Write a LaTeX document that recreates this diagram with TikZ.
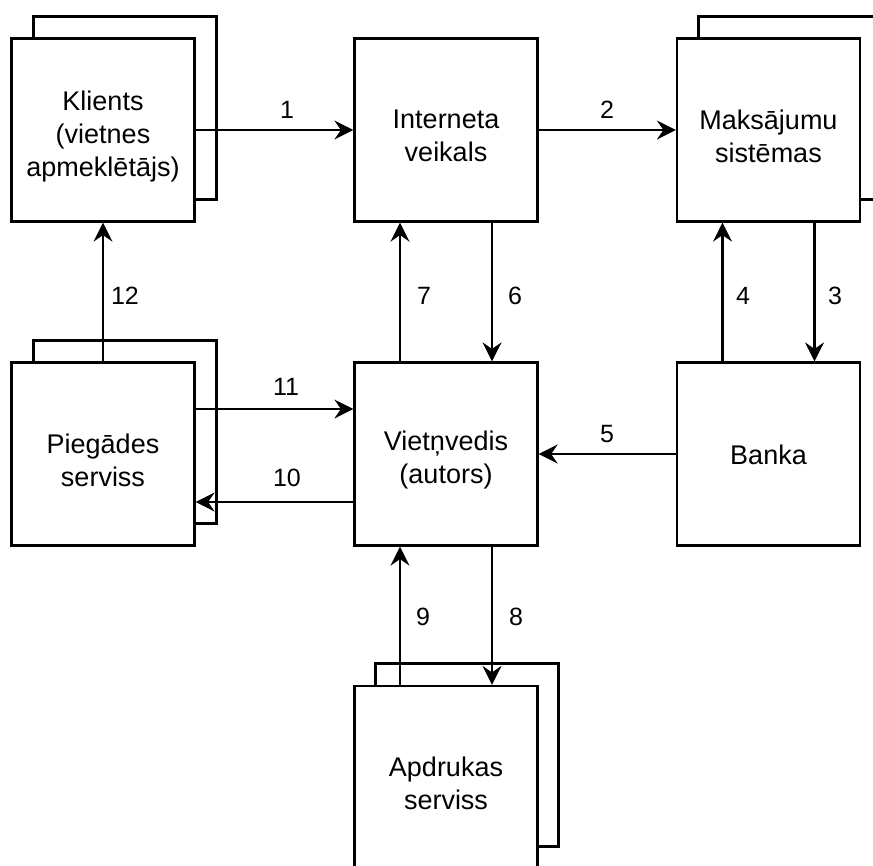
\documentclass[tikz,border=0pt]{standalone}
\usepackage{fontspec}
\setmainfont{Liberation Sans}
\usetikzlibrary{arrows.meta}
\begin{document}
\begin{tikzpicture}[x=1pt,y=-1pt,
  box/.style={draw=black,line width=2.2pt,fill=white,minimum width=183pt,minimum height=183pt,inner sep=0pt},
  boxtext/.style={align=center,font=\fontsize{27}{33}\selectfont,text=black,inner sep=0pt},
  backbox/.style={draw=black,line width=2.2pt,fill=white,minimum width=183pt,minimum height=183pt,inner sep=0pt},
  arr/.style={line width=2.2pt,-{Stealth[length=19pt,width=19pt,inset=6.5pt]}},
  lbl/.style={font=\fontsize{25}{30}\selectfont,inner sep=0pt,text=black}]
\useasboundingbox (0,0) rectangle (873,865);
\begin{scope}
\clip (0,0) rectangle (873,865);
% back boxes
\node[backbox] (klb) at (125,108) {};
\node[backbox] (msb) at (790,108) {};
\node[backbox] (pgb) at (125,432) {};
\node[backbox] (apb) at (467,755) {};
% front boxes
\node[box,label={[name=klt,boxtext,yshift=-7pt]center:Klients\\(vietnes\\apmeklētājs)}] (kl) at (103,130) {};
\node[box,label={[name=ivt,boxtext,yshift=-6pt]center:Interneta\\veikals}] (iv) at (446,130) {};
\node[box,label={[name=mst,boxtext,yshift=-6pt]center:Maksājumu\\sistēmas}] (ms) at (768.5,130) {};
\node[box,label={[name=pgt,boxtext,yshift=-6pt]center:Piegādes\\serviss}] (pg) at (103,454) {};
\node[box,label={[name=vtt,boxtext,yshift=-6pt]center:Vietņvedis\\(autors)}] (vt) at (446,454) {};
\node[box,label={[name=bkt,boxtext,yshift=-1pt]center:Banka}] (bk) at (768.5,454) {};
\node[box,label={[name=apt,boxtext,yshift=-6pt]center:Apdrukas\\serviss}] (ap) at (446,777.5) {};
\end{scope}
% connectors
\draw[arr] (kl.east) -- (iv.west);
\draw[arr] (iv.east) -- (ms.west);
\draw[arr] ([xshift=46pt]ms.south) -- ([xshift=46pt]bk.north);
\draw[arr] ([xshift=-46pt]bk.north) -- ([xshift=-46pt]ms.south);
\draw[arr] (bk.west) -- (vt.east);
\draw[arr] ([xshift=46pt]iv.south) -- ([xshift=46pt]vt.north);
\draw[arr] ([xshift=-46pt]vt.north) -- ([xshift=-46pt]iv.south);
\draw[arr] ([xshift=46pt]vt.south) -- ([xshift=46pt]ap.north);
\draw[arr] ([xshift=-46pt]ap.north) -- ([xshift=-46pt]vt.south);
\draw[arr] ([yshift=-48pt]vt.west) -- ([yshift=-48pt]pg.east);
\draw[arr] ([yshift=45pt]pg.east) -- ([yshift=45pt]vt.west);
\draw[arr] (pg.north) -- (kl.south);
% labels
\node[lbl] (l1) at (287,110) {1};
\node[lbl] (l2) at (607,110) {2};
\node[lbl] (l3) at (835,296) {3};
\node[lbl] (l4) at (743,296) {4};
\node[lbl] (l5) at (607,434) {5};
\node[lbl] (l6) at (515,296) {6};
\node[lbl] (l7) at (424,296) {7};
\node[lbl] (l8) at (516,617) {8};
\node[lbl] (l9) at (423,617) {9};
\node[lbl] (l10) at (287,478) {10};
\node[lbl] (l11) at (286,387) {11};
\node[lbl] (l12) at (125,296) {12};
\end{tikzpicture}
\end{document}
